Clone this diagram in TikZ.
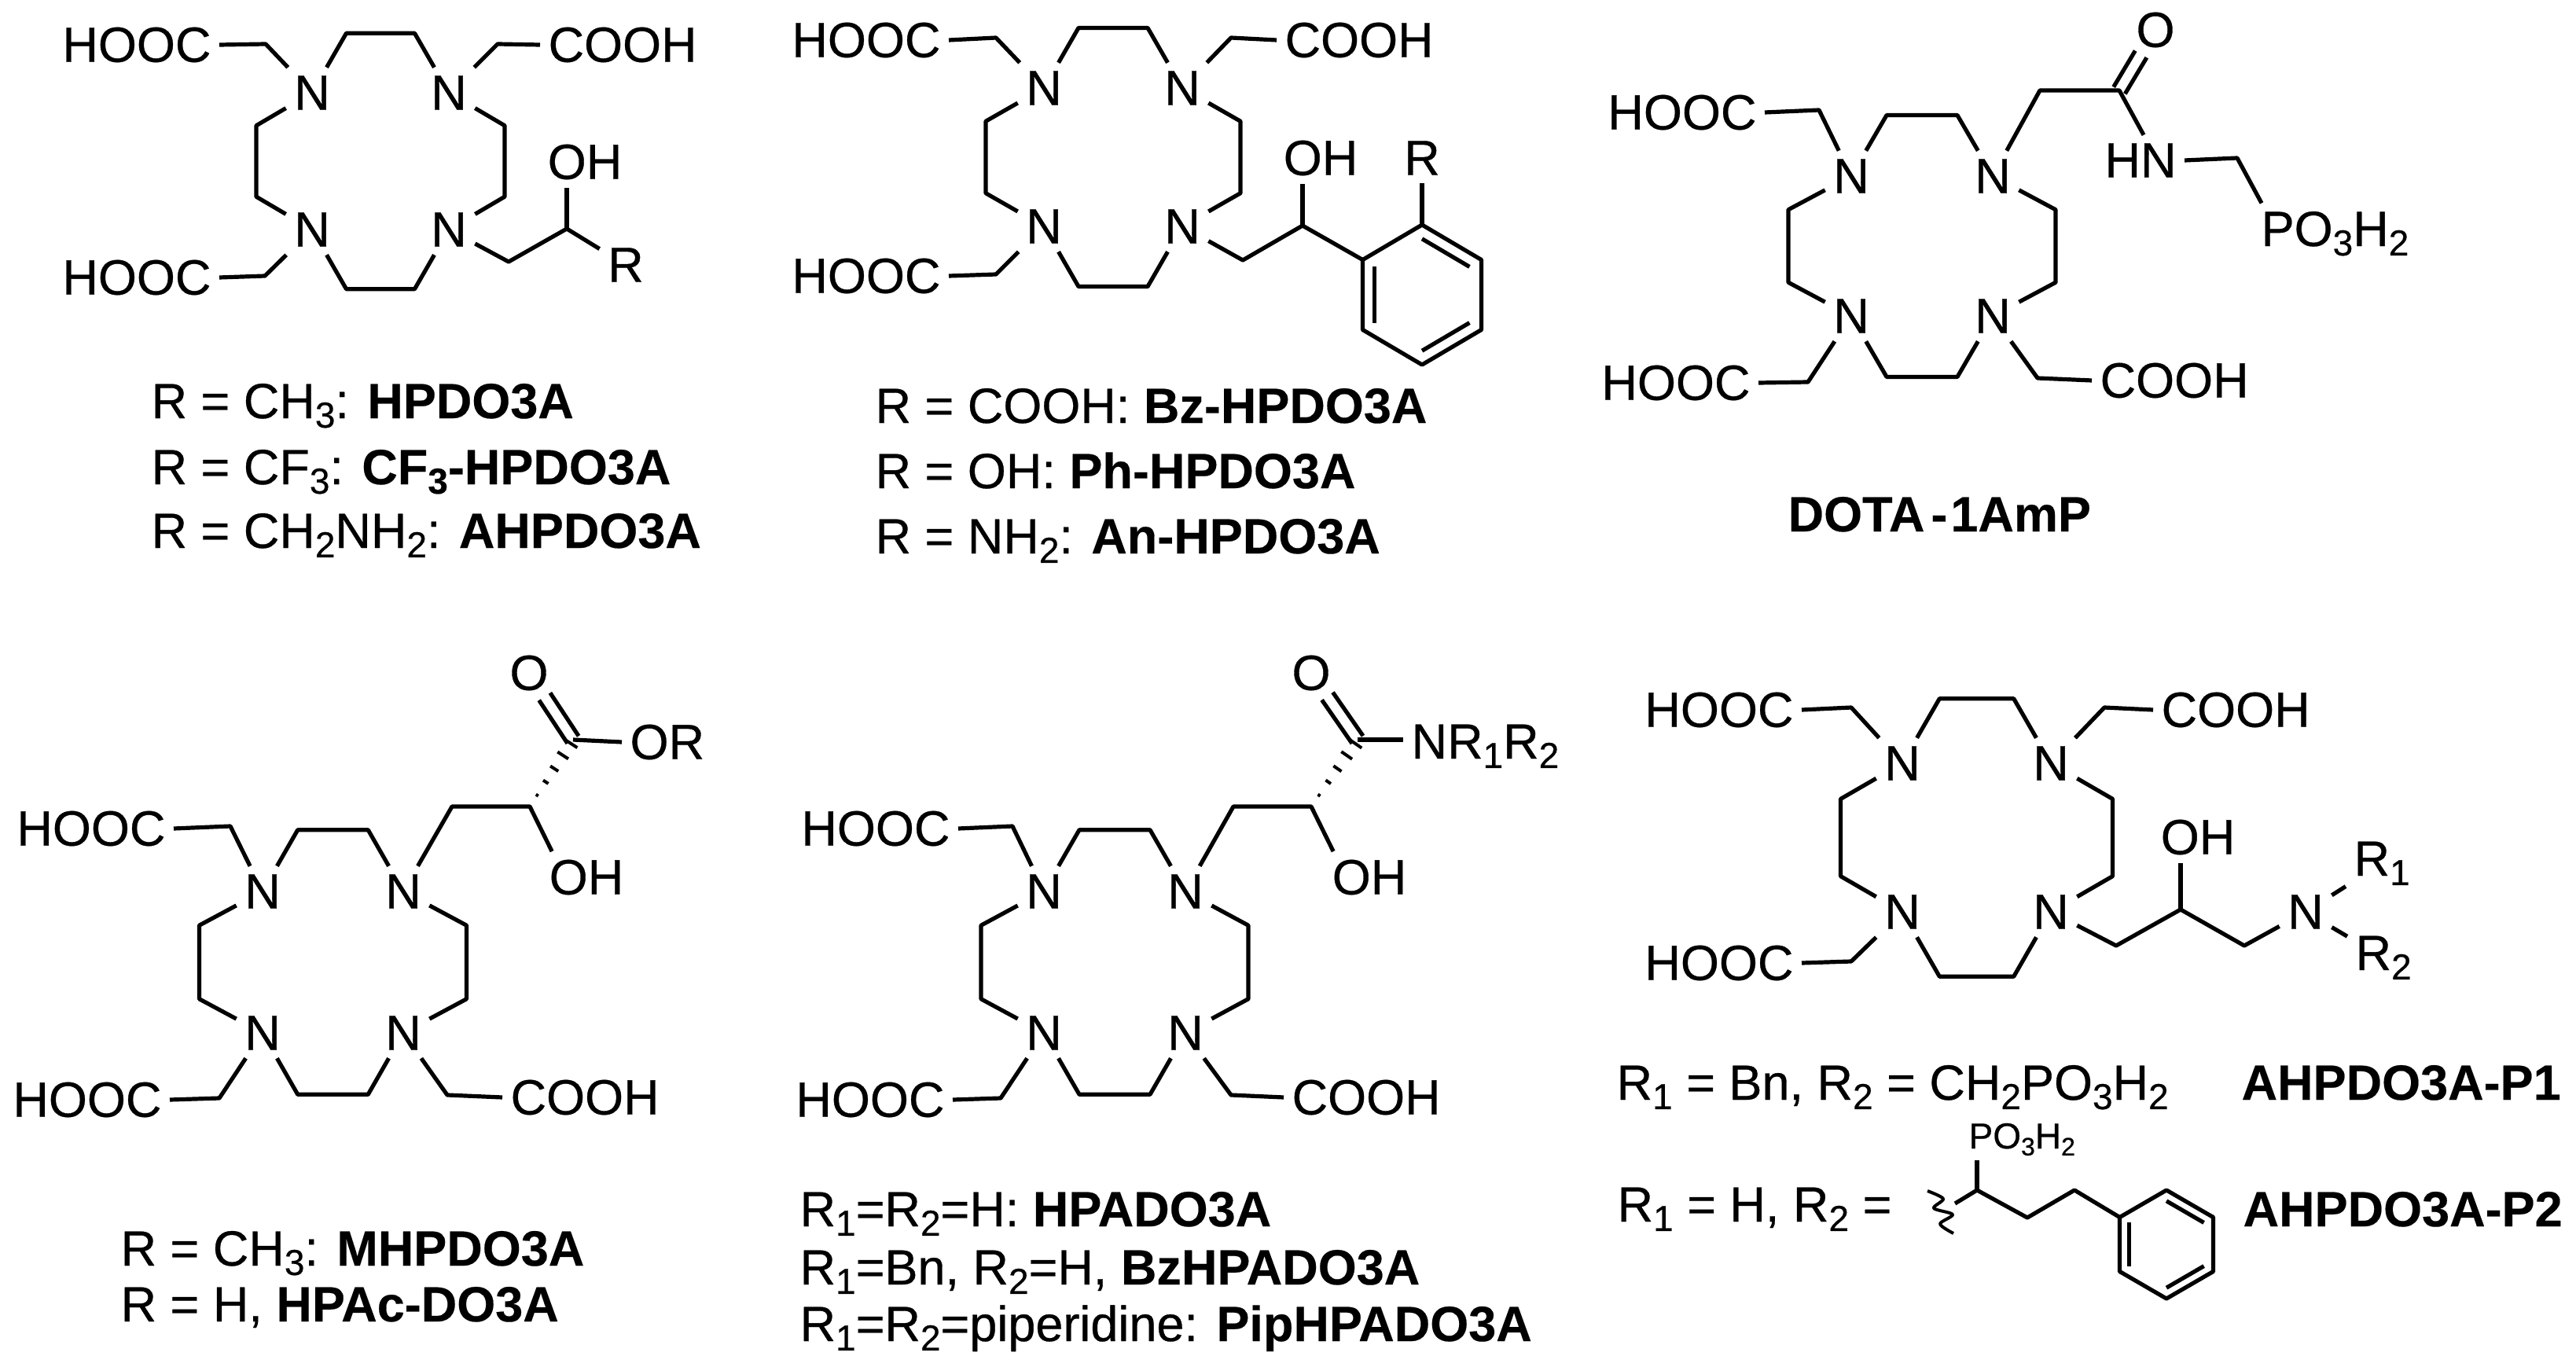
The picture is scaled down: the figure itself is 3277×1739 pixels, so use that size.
\documentclass[tikz,border=0pt]{standalone}
\usepackage{fontspec}
\setmainfont{Liberation Sans}[UprightFeatures={FakeBold=0.5},BoldFeatures={FakeBold=0.3}]
\usetikzlibrary{calc}
\newcommand{\ssub}[2][46]{\raisebox{-.19em}{\fontsize{#1}{#1}\selectfont #2}}
% macrocycle: name, centre x, centre y, half width and height of the N square, side x
\newcommand{\cyclen}[6]{
  \node (#1NW) at ({#2-#4},{#3-#5}) {N};
  \node (#1NE) at ({#2+#4},{#3-#5}) {N};
  \node (#1SW) at ({#2-#4},{#3+#5}) {N};
  \node (#1SE) at ({#2+#4},{#3+#5}) {N};
  \coordinate (#1t1) at ({#2-.5*#4},{#3-1.87*#5});
  \coordinate (#1t2) at ({#2+.5*#4},{#3-1.87*#5});
  \coordinate (#1r1) at ({#2+#6},{#3-.52*#5});
  \coordinate (#1r2) at ({#2+#6},{#3+.52*#5});
  \coordinate (#1b1) at ({#2-.5*#4},{#3+1.87*#5});
  \coordinate (#1b2) at ({#2+.5*#4},{#3+1.87*#5});
  \coordinate (#1l1) at ({#2-#6},{#3-.52*#5});
  \coordinate (#1l2) at ({#2-#6},{#3+.52*#5});
  \draw (#1NW) -- (#1t1) -- (#1t2) -- (#1NE);
  \draw (#1NE) -- (#1r1) -- (#1r2) -- (#1SE);
  \draw (#1SE) -- (#1b2) -- (#1b1) -- (#1SW);
  \draw (#1SW) -- (#1l2) -- (#1l1) -- (#1NW);
}
% benzene: name, centre x, centre y, radius x, radius y
\newcommand{\phenyl}[5]{
  \coordinate (#1c) at (#2,#3);
  \coordinate (#1v1) at (#2,{#3-#5});
  \coordinate (#1v2) at ({#2+#4},{#3-.5*#5});
  \coordinate (#1v3) at ({#2+#4},{#3+.5*#5});
  \coordinate (#1v4) at (#2,{#3+#5});
  \coordinate (#1v5) at ({#2-#4},{#3+.5*#5});
  \coordinate (#1v6) at ({#2-#4},{#3-.5*#5});
  \draw (#1v1) -- (#1v2) -- (#1v3) -- (#1v4) -- (#1v5) -- (#1v6) -- cycle;
  \foreach \i/\j in {1/2,3/4,5/6}
    \draw ($(#1c)!.8!(#1v\i)$) -- ($(#1c)!.8!(#1v\j)$);
}
\newcommand{\dbond}[2]{
  \draw[shorten >=36pt] ($(#1)!8.5pt!90:(#2)$) -- ($(#2)!8.5pt!-90:(#1)$);
  \draw[shorten >=36pt] ($(#1)!8.5pt!-90:(#2)$) -- ($(#2)!8.5pt!90:(#1)$);
}
\newcommand{\hashbond}[2]{
  \foreach \t in {.17,.37,.57,.77,.95}
    \draw[line width=4pt] ($(#1)!\t!6:(#2)$) -- ($(#1)!\t!-6:(#2)$);
}
\begin{document}
\begin{tikzpicture}
[x=1pt,y=-1pt,line width=5.2pt,line join=round,%
  every node/.style={inner sep=8pt,font=\fontsize{63}{70}\selectfont},%
  caption/.style={anchor=base west,inner sep=0pt},%
  subatom/.style={anchor=base west}]
\useasboundingbox (0,0) rectangle (3277,1739);
% first row
\cyclen{a}{484}{205}{87}{87}{158}
\node[anchor=east] (aHOOCa) at (279,57) {HOOC};
\node[anchor=west] (aCOOH) at (687,57) {COOH};
\node[anchor=east] (aHOOCb) at (279,353) {HOOC};
\node (aOH) at (744,206) {OH};
\node (aR) at (796,337) {R};
\coordinate (aCa) at (338,56);
\coordinate (aCb) at (633,56);
\coordinate (aCc) at (337,351);
\coordinate (aCd) at (647,333);
\coordinate (aCe) at (721,291);
\draw (aNW) -- (aCa) -- (aHOOCa.east);
\draw (aNE) -- (aCb) -- (aCOOH.west);
\draw (aSW) -- (aCc) -- (aHOOCb.east);
\draw (aSE) -- (aCd) -- (aCe) -- (aR);
\draw (aCe) -- (aCe |- aOH.south);
\node[caption] (aTa) at (190,532) {R = CH\ssub{3}: \textbf{HPDO3A}};
\node[caption] (aTb) at (190,616) {R = CF\ssub{3}: \textbf{CF\ssub{3}-HPDO3A}};
\node[caption] (aTc) at (190,697) {R = CH\ssub{2}NH\ssub{2}: \textbf{AHPDO3A}};

\cyclen{b}{1416}{200}{88}{88}{162}
\node[anchor=east] (bHOOCa) at (1207,51) {HOOC};
\node[anchor=west] (bCOOH) at (1624,51) {COOH};
\node[anchor=east] (bHOOCb) at (1207,351) {HOOC};
\node (bOH) at (1680,201) {OH};
\node (bR) at (1809,201) {R};
\coordinate (bCa) at (1267,48);
\coordinate (bCb) at (1566,48);
\coordinate (bCc) at (1267,349);
\coordinate (bCd) at (1581,331);
\coordinate (bCe) at (1657,287);
\phenyl{bP}{1809}{375}{75.5}{89}
\draw (bNW) -- (bCa) -- (bHOOCa.east);
\draw (bNE) -- (bCb) -- (bCOOH.west);
\draw (bSW) -- (bCc) -- (bHOOCb.east);
\draw (bSE) -- (bCd) -- (bCe) -- (bPv6);
\draw (bCe) -- (bCe |- bOH.south);
\draw (bPv1) -- (bR);
\node[caption] (bTa) at (1111,538) {R = COOH: \textbf{Bz-HPDO3A}};
\node[caption] (bTb) at (1111,621) {R = OH: \textbf{Ph-HPDO3A}};
\node[caption] (bTc) at (1111,704) {R = NH\ssub{2}: \textbf{An-HPDO3A}};

\cyclen{c}{2445}{313}{90}{89}{170}
\node[anchor=east] (cHOOCa) at (2245,143) {HOOC};
\node[anchor=east] (cHOOCb) at (2237,487) {HOOC};
\node[anchor=west] (cCOOH) at (2661,484) {COOH};
\node (cO) at (2742,38) {O};
\node (cHN) at (2723,204) {HN};
\node[subatom] (cPO) at (2866,313) {PO\ssub{3}H\ssub{2}};
\coordinate (cCa) at (2314,140);
\coordinate (cCb) at (2595,115);
\coordinate (cCc) at (2696,115);
\coordinate (cCd) at (2846,201);
\coordinate (cCe) at (2300,486);
\coordinate (cCf) at (2592,481);
\draw (cNW) -- (cCa) -- (cHOOCa.east);
\draw (cNE) -- (cCb) -- (cCc) -- ([xshift=4pt]cHN.north);
\dbond{cCc}{cO}
\draw (cHN.east) -- (cCd) -- ([xshift=11pt]cPO.north west);
\draw (cSW) -- (cCe) -- (cHOOCb.east);
\draw (cSE) -- (cCf) -- (cCOOH.west);
\node[caption] (cT) at (2272,676) {\textbf{DOTA\kern8pt-\kern4pt1AmP}};

% second row
\cyclen{d}{423.5}{1224}{89.5}{90}{170}
\node[anchor=east] (dHOOCa) at (221,1054) {HOOC};
\node[anchor=east] (dHOOCb) at (216,1399) {HOOC};
\node[anchor=west] (dCOOH) at (639,1396) {COOH};
\node (dO) at (673,856) {O};
\node[anchor=west] (dOR) at (791,944) {OR};
\node (dOH) at (746,1116) {OH};
\coordinate (dCa) at (293,1051);
\coordinate (dCb) at (575,1026);
\coordinate (dCc) at (674,1026);
\coordinate (dCd) at (729,941);
\coordinate (dCe) at (279,1397);
\coordinate (dCf) at (569,1393);
\draw (dNW) -- (dCa) -- (dHOOCa.east);
\draw (dNE) -- (dCb) -- (dCc) -- ([xshift=14pt]dOH.north west);
\hashbond{dCc}{dCd}
\dbond{dCd}{dO}
\draw (dCd) -- (dOR.west);
\draw (dSW) -- (dCe) -- (dHOOCb.east);
\draw (dSE) -- (dCf) -- (dCOOH.west);
\node[caption] (dTa) at (151,1610) {R = CH\ssub{3}: \textbf{MHPDO3A}};
\node[caption] (dTb) at (151,1681) {R = H, \textbf{HPAc-DO3A}};

\cyclen{e}{1418}{1224}{90}{90}{170}
\node[anchor=east] (eHOOCa) at (1219,1054) {HOOC};
\node[anchor=east] (eHOOCb) at (1212,1399) {HOOC};
\node[anchor=west] (eCOOH) at (1633,1396) {COOH};
\node (eO) at (1668,856) {O};
\node[subatom] (eNR) at (1785,965) {NR\ssub{1}R\ssub{2}};
\node (eOH) at (1742,1116) {OH};
\coordinate (eCa) at (1288,1051);
\coordinate (eCb) at (1569,1026);
\coordinate (eCc) at (1668,1026);
\coordinate (eCd) at (1727,941);
\coordinate (eCe) at (1273,1397);
\coordinate (eCf) at (1566,1393);
\draw (eNW) -- (eCa) -- (eHOOCa.east);
\draw (eNE) -- (eCb) -- (eCc) -- ([xshift=12pt]eOH.north west);
\hashbond{eCc}{eCd}
\dbond{eCd}{eO}
\draw (eCd) -- (eCd -| eNR.west);
\draw (eSW) -- (eCe) -- (eHOOCb.east);
\draw (eSE) -- (eCf) -- (eCOOH.west);
\node[caption] (eTa) at (1015,1560) {R\ssub{1}=R\ssub{2}=H: \textbf{HPADO3A}};
\node[caption] (eTb) at (1015,1634) {R\ssub{1}=Bn, R\ssub{2}=H, \textbf{BzHPADO3A}};
\node[caption] (eTc) at (1015,1706) {R\ssub{1}=R\ssub{2}=piperidine: \textbf{PipHPADO3A}};

\cyclen{f}{2514.5}{1065.5}{94.5}{94.5}{173}
\node[anchor=east] (fHOOCa) at (2292,903) {HOOC};
\node[anchor=west] (fCOOH) at (2739,903) {COOH};
\node[anchor=east] (fHOOCb) at (2292,1225) {HOOC};
\node (fOH) at (2796,1065) {OH};
\node (fN) at (2933,1160) {N};
\node[subatom] (fRa) at (2984,1114) {R\ssub{1}};
\node[subatom] (fRb) at (2986,1234) {R\ssub{2}};
\coordinate (fCa) at (2355,900);
\coordinate (fCb) at (2677,900);
\coordinate (fCc) at (2355,1223);
\coordinate (fCd) at (2692,1203);
\coordinate (fCe) at (2774,1157);
\coordinate (fCf) at (2855,1203);
\draw (fNW) -- (fCa) -- (fHOOCa.east);
\draw (fNE) -- (fCb) -- (fCOOH.west);
\draw (fSW) -- (fCc) -- (fHOOCb.east);
\draw (fSE) -- (fCd) -- (fCe) -- (fCf) -- (fN);
\draw (fCe) -- (fCe |- fOH.south);
\draw (fN) -- (fRa);
\draw (fN) -- (fRb);
\node[caption] (fTa) at (2054,1399) {R\ssub{1} = Bn, R\ssub{2} = CH\ssub{2}PO\ssub{3}H\ssub{2}};
\node[caption] (fTb) at (2849,1399) {\textbf{AHPDO3A-P1}};
\node[caption] (fTc) at (2055,1554) {R\ssub{1} = H, R\ssub{2} =};
\node[caption] (fTd) at (2851,1560) {\textbf{AHPDO3A-P2}};
% side group of the second R2
\node[subatom,inner sep=3pt,font=\fontsize{46}{50}\selectfont] (gPO) at (2499,1461) {PO\ssub[32]{3}H\ssub[32]{2}};
\coordinate (gCa) at (2515,1514);
\coordinate (gCb) at (2487,1531);
\coordinate (gCc) at (2579,1549);
\coordinate (gCd) at (2639,1514);
\phenyl{gP}{2756}{1583}{59.5}{69}
\draw (gCa) -- (gCa |- gPO.south);
\draw (gCb) -- (gCa) -- (gCc) -- (gCd) -- (gPv6);
\draw[line width=4pt] plot[smooth] coordinates {(2452,1515) (2472,1525) (2460,1537) (2484,1545) (2468,1557) (2485,1569)};
\end{tikzpicture}
\end{document}
